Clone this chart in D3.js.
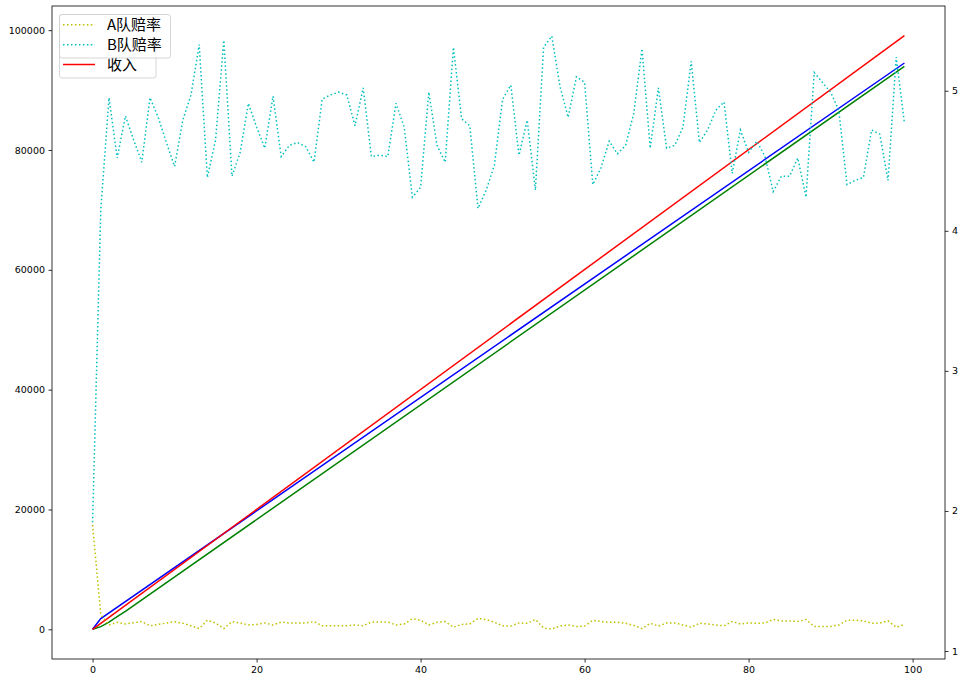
<!DOCTYPE html>
<html>
<head>
<meta charset="utf-8">
<script src="https://cdn.jsdelivr.net/npm/d3@7"></script>
<style>
  html, body { margin: 0; padding: 0; background: #fff; }
  svg { display: block; }
</style>
</head>
<body>
<svg id="chart" width="965" height="683"></svg>
<script>
// ---------- data ----------
const xIndex = d3.range(100); // 0..99 (x positions of the odds series)

const oddsA = [
  1.90, 1.26, 1.186, 1.205, 1.193, 1.202, 1.21, 1.18, 1.19, 1.20,
  1.21, 1.198, 1.18, 1.16, 1.22, 1.20, 1.16, 1.21, 1.20, 1.186,
  1.19, 1.20, 1.186, 1.207, 1.20, 1.20, 1.20, 1.21, 1.18, 1.18,
  1.18, 1.18, 1.186, 1.18, 1.207, 1.207, 1.207, 1.186, 1.193, 1.23,
  1.22, 1.186, 1.205, 1.21, 1.17, 1.19, 1.193, 1.233, 1.225, 1.205,
  1.18, 1.178, 1.20, 1.198, 1.225, 1.164, 1.157, 1.178, 1.186, 1.175,
  1.178, 1.22, 1.21, 1.205, 1.205, 1.198, 1.183, 1.16, 1.198, 1.178,
  1.20, 1.20, 1.186, 1.17, 1.198, 1.193, 1.186, 1.18, 1.21, 1.193,
  1.20, 1.198, 1.20, 1.225, 1.215, 1.215, 1.21, 1.225, 1.175, 1.175,
  1.175, 1.186, 1.22, 1.22, 1.215, 1.198, 1.20, 1.215, 1.17, 1.19
];

const oddsB = [
  1.92, 4.15, 4.95, 4.52, 4.82, 4.65, 4.49, 4.95, 4.81, 4.63,
  4.46, 4.79, 4.97, 5.33, 4.38, 4.65, 5.36, 4.39, 4.56, 4.91,
  4.74, 4.59, 4.96, 4.53, 4.61, 4.63, 4.60, 4.49, 4.94, 4.97,
  4.99, 4.97, 4.75, 5.02, 4.53, 4.54, 4.53, 4.91, 4.74, 4.24,
  4.31, 4.99, 4.61, 4.49, 5.31, 4.80, 4.75, 4.16, 4.29, 4.47,
  4.94, 5.04, 4.54, 4.79, 4.29, 5.31, 5.39, 5.03, 4.81, 5.10,
  5.06, 4.33, 4.45, 4.64, 4.55, 4.61, 4.84, 5.30, 4.59, 5.02,
  4.59, 4.61, 4.74, 5.21, 4.63, 4.72, 4.86, 4.92, 4.41, 4.72,
  4.56, 4.64, 4.53, 4.28, 4.39, 4.39, 4.52, 4.24, 5.13, 5.06,
  4.99, 4.86, 4.33, 4.36, 4.38, 4.72, 4.69, 4.36, 5.24, 4.77
];

// cumulative lines (left axis) – read as breakpoints off the picture
const blueX  = [0, 1, 99];
const blueY  = [0, 1800, 94520];
const greenX = [0, 1, 2, 3, 4, 99];
const greenY = [0, 450, 1200, 2100, 3000, 93950];
const incomeX = [0, 99];
const incomeY = [0, 99080];

const xTicks = [0, 20, 40, 60, 80, 100];
const yLeftTicks = [0, 20000, 40000, 60000, 80000, 100000];
const yRightTicks = [1, 2, 3, 4, 5];

const legendFrontLabels = ["A队赔率", "B队赔率"];
const legendBackLabel = "收入";

// ---------- layout ----------
const L = 52, R = 945, T = 6, B = 659;
const svg = d3.select("#chart");

const x = d3.scaleLinear().domain([-4.95, 103.95]).range([L, R]);
const yL = d3.scaleLinear().domain([-4954, 104034]).range([B, T]);
const yR = d3.scaleLinear().domain([0.943, 5.605]).range([B, T]);

const tickFont = "DejaVu Sans, sans-serif";
const tickSize = 9.5;

// clip
svg.append("defs").append("clipPath").attr("id", "clip")
  .append("rect").attr("x", L).attr("y", T).attr("width", R - L).attr("height", B - T);

const plot = svg.append("g").attr("clip-path", "url(#clip)");

function pairLine(xs, ys, scaleY) {
  return d3.line().x((d, i) => x(xs[i])).y((d, i) => scaleY(ys[i]))(ys);
}

// left axis lines
plot.append("path").attr("d", pairLine(blueX, blueY, yL))
  .attr("fill", "none").attr("stroke", "#0000ff").attr("stroke-width", 1.5);
plot.append("path").attr("d", pairLine(greenX, greenY, yL))
  .attr("fill", "none").attr("stroke", "#008000").attr("stroke-width", 1.5);
plot.append("path").attr("d", pairLine(incomeX, incomeY, yL))
  .attr("fill", "none").attr("stroke", "#ff0000").attr("stroke-width", 1.5);

// right axis lines
const lineR = d3.line().x((d, i) => x(xIndex[i])).y(d => yR(d));
plot.append("path").attr("d", lineR(oddsA))
  .attr("fill", "none").attr("stroke", "#bfbf00").attr("stroke-width", 1.5)
  .attr("stroke-dasharray", "1.5,2.475");
plot.append("path").attr("d", lineR(oddsB))
  .attr("fill", "none").attr("stroke", "#00bfbf").attr("stroke-width", 1.5)
  .attr("stroke-dasharray", "1.5,2.475");

// axes
function styleAxis(g) {
  g.selectAll("text").attr("font-family", tickFont).attr("font-size", tickSize).attr("fill", "#000");
  g.selectAll("line").attr("stroke", "#000").attr("stroke-width", 0.8);
  g.select(".domain").remove();
}
svg.append("g").attr("transform", `translate(0,${B})`)
  .call(d3.axisBottom(x).tickValues(xTicks).tickSize(3.5).tickPadding(3.5).tickFormat(d3.format("d")))
  .call(styleAxis);
svg.append("g").attr("transform", `translate(${L},0)`)
  .call(d3.axisLeft(yL).tickValues(yLeftTicks).tickSize(3.5).tickPadding(3.5).tickFormat(d3.format("d")))
  .call(styleAxis);
svg.append("g").attr("transform", `translate(${R},0)`)
  .call(d3.axisRight(yR).tickValues(yRightTicks).tickSize(3.5).tickPadding(3.5).tickFormat(d3.format("d")))
  .call(styleAxis);

// frame
svg.append("rect").attr("x", L).attr("y", T).attr("width", R - L).attr("height", B - T)
  .attr("fill", "none").attr("stroke", "#000").attr("stroke-width", 0.8);

// legends
const legFont = "'Noto Sans CJK SC', sans-serif";
const legSize = 15;
// back legend (left axis)
svg.append("rect").attr("x", 59.5).attr("y", 14.5).attr("width", 96.5).attr("height", 63.5)
  .attr("rx", 2.5).attr("fill", "#fff").attr("fill-opacity", 0.8).attr("stroke", "#cccccc").attr("stroke-width", 0.8);
svg.append("line").attr("x1", 63).attr("x2", 95).attr("y1", 64.5).attr("y2", 64.5)
  .attr("stroke", "#ff0000").attr("stroke-width", 1.5);
svg.append("text").attr("x", 107).attr("y", 64.5).attr("dy", "0.35em")
  .attr("font-family", legFont).attr("font-size", legSize).attr("fill", "#000").text(legendBackLabel);

// front legend (right axis)
svg.append("rect").attr("x", 59.5).attr("y", 14.5).attr("width", 111).attr("height", 43.5)
  .attr("rx", 2.5).attr("fill", "#fff").attr("fill-opacity", 0.8).attr("stroke", "#cccccc").attr("stroke-width", 0.8);
const frontColors = ["#bfbf00", "#00bfbf"];
legendFrontLabels.forEach((lab, i) => {
  const yy = 24.7 + i * 20;
  svg.append("line").attr("x1", 63).attr("x2", 95).attr("y1", yy).attr("y2", yy)
    .attr("stroke", frontColors[i]).attr("stroke-width", 1.5).attr("stroke-dasharray", "1.5,2.475");
  svg.append("text").attr("x", 107).attr("y", yy).attr("dy", "0.35em")
    .attr("font-family", legFont).attr("font-size", legSize).attr("fill", "#000").text(lab);
});
</script>
</body>
</html>
